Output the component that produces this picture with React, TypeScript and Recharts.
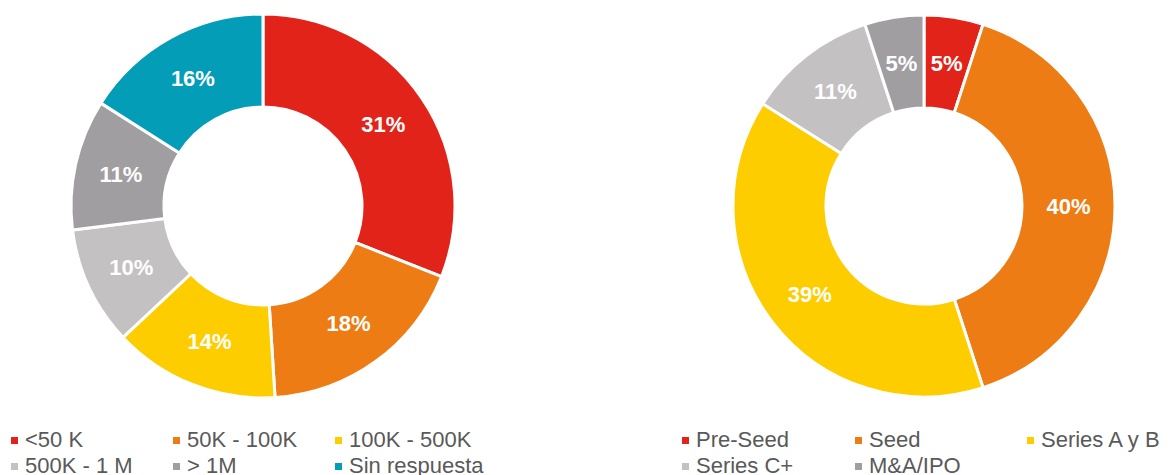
import { PieChart, Pie, Cell, Legend } from 'recharts';

const leftNames = ['<50 K', '50K - 100K', '100K - 500K', '500K - 1 M', '> 1M', 'Sin respuesta'];
const leftValues = [31, 18, 14, 10, 11, 16];
const leftColors = ['#E2231A', '#EC7C13', '#FDCD00', '#C3C1C2', '#A09EA0', '#039DB8'];

const rightNames = ['Pre-Seed', 'Seed', 'Series A y B', 'Series C+', 'M&A/IPO'];
const rightValues = [5, 40, 39, 11, 5];
const rightColors = ['#E2231A', '#EC7C13', '#FDCD00', '#C3C1C2', '#A09EA0'];

const leftData = leftNames.map((name, i) => ({ name, value: leftValues[i] }));
const rightData = rightNames.map((name, i) => ({ name, value: rightValues[i] }));

const RAD = Math.PI / 180;
const FONT = '"Liberation Sans", Arial, sans-serif';

const renderLabel = ({ cx, cy, midAngle, innerRadius, outerRadius, value }: any) => {
  const r = (innerRadius + outerRadius) / 2;
  const x = cx + r * Math.cos(-midAngle * RAD);
  const y = cy + r * Math.sin(-midAngle * RAD);
  return (
    <text x={x} y={y} fill="#fff" textAnchor="middle" dominantBaseline="central"
      fontFamily={FONT} fontWeight="bold" fontSize={22}>
      {`${value}%`}
    </text>
  );
};

// left edge of each legend column
const leftCols = [11, 173, 335];
const rightCols = [682, 855, 1027];

const LegendBlock = () => {
  const items = [
    ...leftNames.map((n, i) => ({ n, c: leftColors[i], x: leftCols[i % 3], row: Math.floor(i / 3) })),
    ...rightNames.map((n, i) => ({ n, c: rightColors[i], x: rightCols[i % 3], row: Math.floor(i / 3) })),
  ];
  return (
    <div style={{ position: 'relative', width: 1173, height: 60 }}>
      {items.map((it, i) => (
        <div key={i} style={{
          position: 'absolute', left: it.x, top: it.row * 26, height: 24,
          display: 'flex', alignItems: 'center', fontFamily: FONT, fontSize: 22,
          color: '#595959', whiteSpace: 'nowrap',
        }}>
          <span style={{ display: 'inline-block', width: 7, height: 7, background: it.c, marginRight: 7 }} />
          {it.n}
        </div>
      ))}
    </div>
  );
};

export default function App() {
  return (
    <div style={{ position: 'absolute', left: 0, top: 0, width: 1173, height: 475, background: '#fff', overflow: 'hidden' }}>
      <PieChart width={1173} height={475} margin={{ top: 0, right: 0, bottom: 0, left: 0 }}>
        <Pie data={leftData} dataKey="value" cx={263} cy={206} innerRadius={99} outerRadius={192}
          startAngle={90} endAngle={-270} stroke="#fff" strokeWidth={3}
          label={renderLabel} labelLine={false} isAnimationActive={false}>
          {leftData.map((_, i) => <Cell key={i} fill={leftColors[i]} />)}
        </Pie>
        <Pie data={rightData} dataKey="value" cx={924} cy={206} innerRadius={98} outerRadius={191}
          startAngle={90} endAngle={-270} stroke="#fff" strokeWidth={3}
          label={renderLabel} labelLine={false} isAnimationActive={false}>
          {rightData.map((_, i) => <Cell key={i} fill={rightColors[i]} />)}
        </Pie>
        <Legend content={<LegendBlock />} wrapperStyle={{ left: 0, top: 428, width: 1173 }} />
      </PieChart>
    </div>
  );
}
